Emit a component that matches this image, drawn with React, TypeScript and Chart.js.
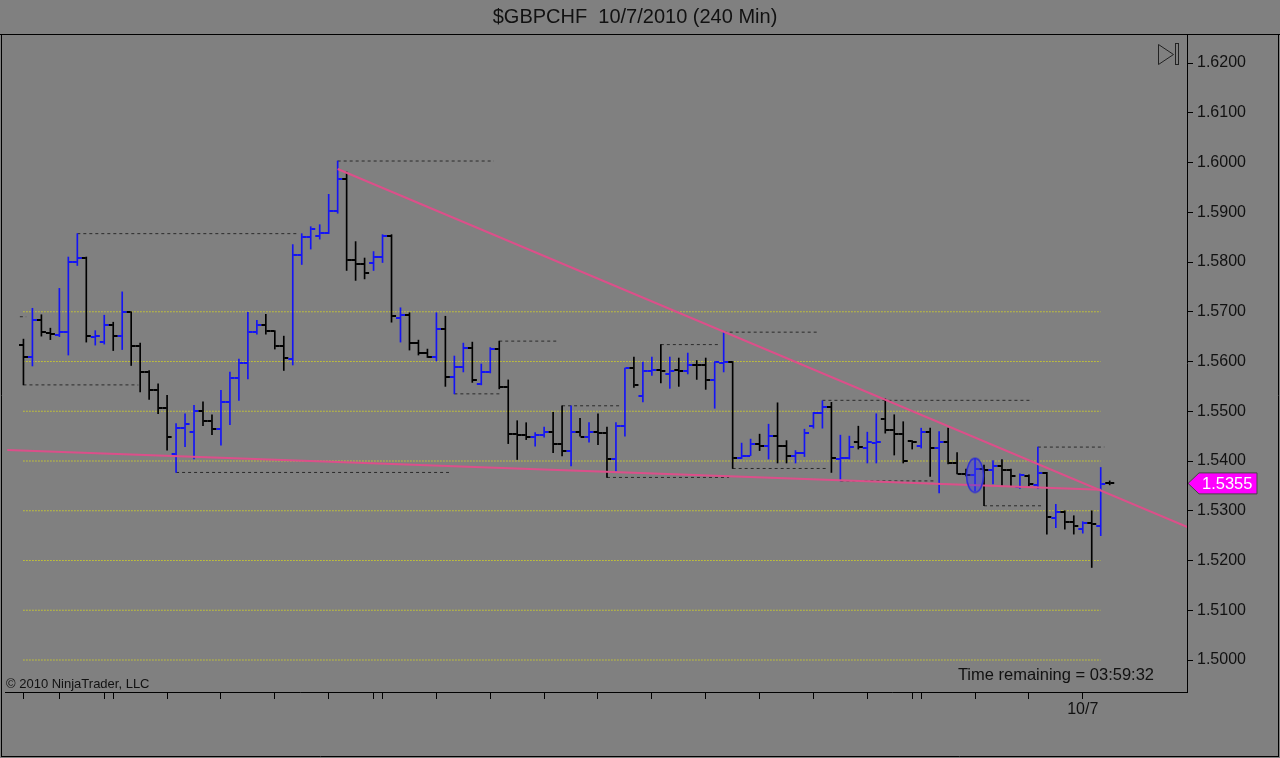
import { useEffect, useRef } from 'react'
import { Chart, registerables } from 'chart.js'

Chart.register(...registerables)

// 240 min bars, index 0 .. 121 (last bar just opened)
const opens = [
  1.5633, 1.5609, 1.5684, 1.5657, 1.5653, 1.5659, 1.5800, 1.5809, 1.5650, 1.5640,
  1.5673, 1.5651, 1.5699, 1.5632, 1.5579, 1.5542, 1.5507, 1.5415, 1.5467, 1.5459,
  1.5501, 1.5480, 1.5465, 1.5519, 1.5567, 1.5597, 1.5660, 1.5673, 1.5662, 1.5632,
  1.5606, 1.5815, 1.5850, 1.5853, 1.5858, 1.5903, 1.5966, 1.5805, 1.5795, 1.5798,
  1.5810, 1.5853, 1.5688, 1.5693, 1.5637, 1.5617, 1.5610, 1.5666, 1.5568, 1.5588,
  1.5628, 1.5555, 1.5579, 1.5625, 1.5548, 1.5455, 1.5453, 1.5448, 1.5453, 1.5458,
  1.5435, 1.5421, 1.5459, 1.5448, 1.5458, 1.5457, 1.5404, 1.5470, 1.5587, 1.5530,
  1.5580, 1.5582, 1.5575, 1.5582, 1.5580, 1.5593, 1.5592, 1.5562, 1.5597, 1.5600,
  1.5407, 1.5411, 1.5434, 1.5431, 1.5451, 1.5431, 1.5411, 1.5417, 1.5471, 1.5496,
  1.5508, 1.5405, 1.5407, 1.5439, 1.5426, 1.5436, 1.5485, 1.5463, 1.5454, 1.5440,
  1.5431, 1.5459, 1.5426, 1.5439, 1.5397, 1.5374, 1.5372, 1.5384, 1.5381, 1.5389,
  1.5381, 1.5347, 1.5370, 1.5352, 1.5376, 1.5285, 1.5298, 1.5278, 1.5264, 1.5275,
  1.5270, 1.5356,
]
const highs = [
  1.5645, 1.5707, 1.5694, 1.5667, 1.5747, 1.5810, 1.5857, 1.5810, 1.5662, 1.5693,
  1.5679, 1.5740, 1.5700, 1.5637, 1.5582, 1.5555, 1.5532, 1.5475, 1.5495, 1.5512,
  1.5519, 1.5493, 1.5542, 1.5579, 1.5605, 1.5699, 1.5683, 1.5695, 1.5662, 1.5651,
  1.5835, 1.5857, 1.5871, 1.5875, 1.5936, 1.6003, 1.5981, 1.5841, 1.5808, 1.5821,
  1.5855, 1.5855, 1.5708, 1.5698, 1.5643, 1.5625, 1.5698, 1.5691, 1.5611, 1.5637,
  1.5639, 1.5595, 1.5628, 1.5641, 1.5563, 1.5481, 1.5477, 1.5457, 1.5468, 1.5498,
  1.5511, 1.5511, 1.5486, 1.5477, 1.5495, 1.5468, 1.5477, 1.5587, 1.5609, 1.5599,
  1.5609, 1.5634, 1.5609, 1.5607, 1.5617, 1.5602, 1.5607, 1.5600, 1.5659, 1.5600,
  1.5436, 1.5444, 1.5454, 1.5474, 1.5517, 1.5441, 1.5421, 1.5464, 1.5498, 1.5521,
  1.5518, 1.5452, 1.5450, 1.5470, 1.5458, 1.5495, 1.5525, 1.5493, 1.5479, 1.5441,
  1.5466, 1.5466, 1.5459, 1.5466, 1.5417, 1.5384, 1.5405, 1.5392, 1.5401, 1.5403,
  1.5384, 1.5374, 1.5372, 1.5428, 1.5377, 1.5313, 1.5300, 1.5290, 1.5278, 1.5300,
  1.5387, 1.5360,
]
const lows = [
  1.5553, 1.5591, 1.5651, 1.5644, 1.5650, 1.5613, 1.5793, 1.5639, 1.5633, 1.5635,
  1.5622, 1.5624, 1.5592, 1.5539, 1.5524, 1.5495, 1.5422, 1.5377, 1.5429, 1.5404,
  1.5471, 1.5453, 1.5432, 1.5473, 1.5522, 1.5565, 1.5655, 1.5655, 1.5625, 1.5582,
  1.5593, 1.5795, 1.5826, 1.5846, 1.5857, 1.5898, 1.5783, 1.5763, 1.5766, 1.5783,
  1.5799, 1.5679, 1.5639, 1.5623, 1.5613, 1.5608, 1.5601, 1.5550, 1.5535, 1.5579,
  1.5558, 1.5553, 1.5577, 1.5545, 1.5435, 1.5403, 1.5443, 1.5430, 1.5448, 1.5417,
  1.5410, 1.5390, 1.5450, 1.5438, 1.5433, 1.5367, 1.5377, 1.5450, 1.5548, 1.5519,
  1.5572, 1.5557, 1.5546, 1.5550, 1.5575, 1.5564, 1.5544, 1.5506, 1.5579, 1.5385,
  1.5405, 1.5411, 1.5421, 1.5404, 1.5396, 1.5396, 1.5396, 1.5409, 1.5466, 1.5466,
  1.5377, 1.5360, 1.5404, 1.5424, 1.5396, 1.5396, 1.5456, 1.5412, 1.5396, 1.5424,
  1.5426, 1.5369, 1.5336, 1.5394, 1.5374, 1.5370, 1.5340, 1.5310, 1.5354, 1.5350,
  1.5350, 1.5345, 1.5349, 1.5345, 1.5253, 1.5266, 1.5263, 1.5253, 1.5255, 1.5186,
  1.5250, 1.5352,
]
const closes = [
  1.5609, 1.5684, 1.5659, 1.5655, 1.5659, 1.5800, 1.5809, 1.5651, 1.5652, 1.5673,
  1.5651, 1.5699, 1.5632, 1.5579, 1.5542, 1.5507, 1.5449, 1.5467, 1.5475, 1.5501,
  1.5480, 1.5465, 1.5519, 1.5567, 1.5597, 1.5660, 1.5673, 1.5662, 1.5632, 1.5607,
  1.5815, 1.5850, 1.5867, 1.5858, 1.5903, 1.5966, 1.5805, 1.5795, 1.5777, 1.5810,
  1.5853, 1.5691, 1.5693, 1.5637, 1.5617, 1.5610, 1.5666, 1.5568, 1.5588, 1.5628,
  1.5563, 1.5579, 1.5625, 1.5548, 1.5455, 1.5453, 1.5448, 1.5453, 1.5458, 1.5435,
  1.5421, 1.5459, 1.5448, 1.5458, 1.5457, 1.5405, 1.5470, 1.5587, 1.5552, 1.5580,
  1.5582, 1.5580, 1.5580, 1.5580, 1.5593, 1.5592, 1.5562, 1.5599, 1.5600, 1.5407,
  1.5411, 1.5434, 1.5431, 1.5451, 1.5431, 1.5411, 1.5417, 1.5456, 1.5496, 1.5508,
  1.5407, 1.5407, 1.5428, 1.5428, 1.5439, 1.5439, 1.5463, 1.5454, 1.5401, 1.5438,
  1.5458, 1.5426, 1.5439, 1.5397, 1.5374, 1.5372, 1.5384, 1.5381, 1.5389, 1.5381,
  1.5369, 1.5372, 1.5354, 1.5376, 1.5287, 1.5298, 1.5278, 1.5270, 1.5275, 1.5273,
  1.5354, 1.5355,
]

// yellow horizontal levels
const levelPrices = [1.50, 1.51, 1.52, 1.53, 1.54, 1.55, 1.56, 1.57]
const levelFrom = 0
const levelTo = 120

// dashed swing high / low lines (bar index from .. to)
const swingFrom = [-0.4, 0, 6, 17, 35, 48, 53, 60, 65, 71, 78, 79, 89, 91, 107, 113]
const swingTo = [0.3, 12.8, 30.5, 47.4, 52.4, 53.3, 59.4, 66.4, 78.6, 77.4, 88.6, 89.4, 112.4, 101.4, 113.6, 120.4]
const swingPrice = [1.5690, 1.5553, 1.5857, 1.5377, 1.6003, 1.5535, 1.5641, 1.5511, 1.5367, 1.5634, 1.5659, 1.5385, 1.5522, 1.5360, 1.5310, 1.5428]

// pink trend lines
const trendX1 = [35, -1.8]
const trendY1 = [1.5987, 1.5422]
const trendX2 = [129.7, 120]
const trendY2 = [1.5267, 1.5342]

// marked bar
const ellipseX = 106
const ellipseY = 1.5371

const xTickIdx = [0, 4, 9, 10, 16, 22, 28, 34, 39, 40, 46, 52, 58, 64, 70, 76, 82, 88, 94, 99, 100, 106, 112, 118]
const xTickText: Record<number, string> = { 118: '10/7' }
const yTicks = [1.50, 1.51, 1.52, 1.53, 1.54, 1.55, 1.56, 1.57, 1.58, 1.59, 1.60, 1.61, 1.62]

const title = '$GBPCHF  10/7/2010 (240 Min)'
const FONT = '"Liberation Sans", Arial, sans-serif'
const UP = '#1414f5'
const DOWN = '#000000'

function tickImg(color: string, side: 'left' | 'right') {
  const c = document.createElement('canvas')
  c.width = 13
  c.height = 2
  const g = c.getContext('2d')!
  g.fillStyle = color
  if (side === 'left') g.fillRect(2, 0, 4, 2)
  else g.fillRect(7, 0, 4, 2)
  return c
}

function ellipseImg() {
  const c = document.createElement('canvas')
  c.width = 20
  c.height = 38
  const g = c.getContext('2d')!
  g.beginPath()
  g.ellipse(10, 19, 8.5, 17, 0, 0, Math.PI * 2)
  g.fillStyle = 'rgba(60,60,235,0.42)'
  g.fill()
  g.strokeStyle = '#2a2ad8'
  g.lineWidth = 1.5
  g.stroke()
  return c
}

const decor = {
  id: 'decor',
  beforeDraw(chart: any) {
    const { ctx, width, height } = chart
    ctx.save()
    ctx.fillStyle = '#808080'
    ctx.fillRect(0, 0, width, height)
    ctx.restore()
  },
  afterDraw(chart: any) {
    const { ctx, scales } = chart
    ctx.save()
    ctx.fillStyle = '#111'
    ctx.textBaseline = 'middle'
    ctx.font = `20px ${FONT}`
    ctx.textAlign = 'center'
    ctx.fillText(title, 635, 17)

    ctx.strokeStyle = '#000'
    ctx.lineWidth = 1
    ctx.beginPath()
    ctx.moveTo(0, 34.5); ctx.lineTo(1280, 34.5)
    ctx.moveTo(1.5, 34); ctx.lineTo(1.5, 757)
    ctx.moveTo(1278.5, 34); ctx.lineTo(1278.5, 757)
    ctx.moveTo(1, 756.5); ctx.lineTo(1279, 756.5)
    ctx.stroke()

    ctx.font = `13px ${FONT}`
    ctx.textAlign = 'left'
    ctx.fillText('© 2010 NinjaTrader, LLC', 6, 684)
    ctx.font = `16.5px ${FONT}`
    ctx.textAlign = 'right'
    ctx.fillText('Time remaining = 03:59:32', 1154, 675)

    // scroll-to-end icon
    ctx.strokeStyle = '#222'
    ctx.beginPath()
    ctx.moveTo(1158.5, 44.5); ctx.lineTo(1173.5, 54.5); ctx.lineTo(1158.5, 64.5); ctx.closePath()
    ctx.stroke()
    ctx.strokeRect(1175.5, 43.5, 3, 21)

    // last price tag
    const last = closes[closes.length - 1]
    const y = scales.y.getPixelForValue(last)
    ctx.beginPath()
    ctx.moveTo(1188, y)
    ctx.lineTo(1199, y - 10.5)
    ctx.lineTo(1257, y - 10.5)
    ctx.lineTo(1257, y + 10.5)
    ctx.lineTo(1199, y + 10.5)
    ctx.closePath()
    ctx.fillStyle = '#ff00ff'
    ctx.fill()
    ctx.strokeStyle = '#444'
    ctx.stroke()
    ctx.fillStyle = '#fff'
    ctx.font = `16.5px ${FONT}`
    ctx.textAlign = 'left'
    ctx.fillText(last.toFixed(4), 1202, y + 1)
    ctx.restore()
  },
}

export default function App() {
  const canvasRef = useRef<HTMLCanvasElement>(null)
  const chartRef = useRef<Chart | null>(null)

  useEffect(() => {
    if (!canvasRef.current) return
    if (chartRef.current) { chartRef.current.destroy(); chartRef.current = null }

    const colors = closes.map((c, i) => (c >= opens[i] ? UP : DOWN))
    const openImgs = colors.map(c => tickImg(c, 'left'))
    const closeImgs = colors.map(c => tickImg(c, 'right'))

    const datasets: any[] = []
    levelPrices.forEach(p => {
      datasets.push({
        type: 'line',
        data: [{ x: levelFrom, y: p }, { x: levelTo, y: p }],
        borderColor: '#f2f200',
        borderWidth: 1,
        borderDash: [1, 2],
        pointRadius: 0,
        order: 6,
      })
    })
    swingPrice.forEach((p, k) => {
      datasets.push({
        type: 'line',
        data: [{ x: swingFrom[k], y: p }, { x: swingTo[k], y: p }],
        borderColor: '#2b2b2b',
        borderWidth: 1,
        borderDash: [3, 3],
        pointRadius: 0,
        order: 5,
      })
    })
    datasets.push({
      type: 'bar',
      data: highs.map((h, i) => ({ x: i, y: [lows[i], h] })),
      backgroundColor: colors,
      barThickness: 1,
      grouped: false,
      order: 4,
    })
    datasets.push({
      type: 'line',
      data: opens.map((o, i) => ({ x: i, y: o })),
      showLine: false,
      pointStyle: openImgs,
      pointRadius: 3,
      order: 3,
    })
    datasets.push({
      type: 'line',
      data: closes.map((c, i) => ({ x: i, y: c })),
      showLine: false,
      pointStyle: closeImgs,
      pointRadius: 3,
      order: 3,
    })
    trendX1.forEach((x1, k) => {
      datasets.push({
        type: 'line',
        data: [{ x: x1, y: trendY1[k] }, { x: trendX2[k], y: trendY2[k] }],
        borderColor: '#dc4f8a',
        borderWidth: 2,
        pointRadius: 0,
        order: 2,
      })
    })
    datasets.push({
      type: 'line',
      data: [{ x: ellipseX, y: ellipseY }],
      showLine: false,
      pointStyle: ellipseImg(),
      pointRadius: 3,
      order: 1,
    })

    chartRef.current = new Chart(canvasRef.current, {
      type: 'bar',
      data: { datasets },
      options: {
        responsive: false,
        animation: false,
        events: [],
        layout: { padding: { left: 2, top: 34, right: 2, bottom: 1 } },
        plugins: { legend: { display: false }, tooltip: { enabled: false }, title: { display: false } },
        scales: {
          x: {
            type: 'linear',
            position: 'bottom',
            min: -2.0556,
            max: 129.6111,
            bounds: 'data',
            offset: false,
            afterFit: (s: any) => { s.height = 65 },
            afterBuildTicks: (s: any) => { s.ticks = xTickIdx.map(v => ({ value: v })) },
            grid: { drawOnChartArea: false, drawTicks: true, tickLength: 7, color: '#000', offset: false },
            border: { display: true, color: '#000' },
            ticks: {
              autoSkip: false,
              maxRotation: 0,
              padding: 1,
              color: '#111',
              font: { family: FONT, size: 16 },
              callback: (v: any) => xTickText[v] ?? '',
            },
          },
          y: {
            type: 'linear',
            position: 'right',
            min: 1.49357,
            max: 1.62583,
            beginAtZero: false,
            bounds: 'data',
            afterFit: (s: any) => { s.width = 91 },
            afterBuildTicks: (s: any) => { s.ticks = yTicks.map(v => ({ value: v })) },
            grid: { drawOnChartArea: false, drawTicks: true, tickLength: 6, color: '#000' },
            border: { display: true, color: '#000' },
            ticks: {
              autoSkip: false,
              padding: 4,
              color: '#111',
              font: { family: FONT, size: 16 },
              callback: (v: any) => Number(v).toFixed(4),
            },
          },
        },
      } as any,
      plugins: [decor],
    })

    return () => { chartRef.current?.destroy(); chartRef.current = null }
  }, [])

  return (
    <div style={{ position: 'absolute', left: 0, top: 0, width: 1280, height: 758, background: '#808080' }}>
      <canvas ref={canvasRef} width={1280} height={758} style={{ display: 'block' }} />
    </div>
  )
}
